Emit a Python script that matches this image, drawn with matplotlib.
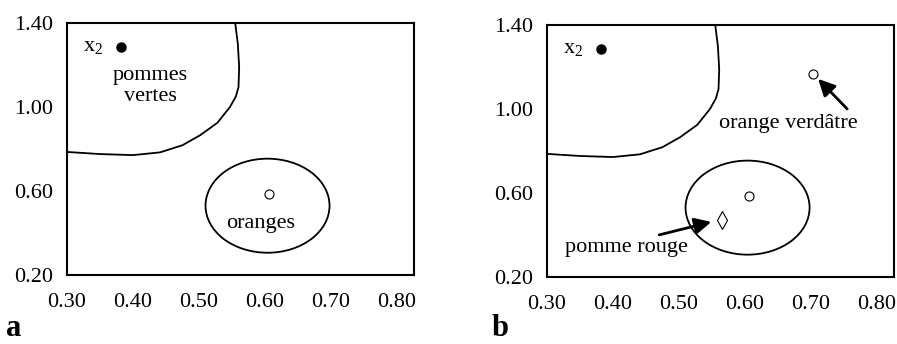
import numpy as np
import matplotlib
matplotlib.use('Agg')
import matplotlib.pyplot as plt
from matplotlib.patches import Ellipse

plt.rcParams['font.family'] = ['Liberation Serif', 'DejaVu Serif']
plt.rcParams['mathtext.fontset'] = 'custom'
plt.rcParams['mathtext.rm'] = 'Liberation Serif'

# axes settings
xticks = [0.30, 0.40, 0.50, 0.60, 0.70, 0.80]
yticks = [0.20, 0.60, 1.00, 1.40]
xlim = (0.30, 0.826)
ylim = (0.20, 1.40)

# decision boundary of the "pommes vertes" region
boundary_x = [0.300, 0.350, 0.400, 0.441, 0.475, 0.502, 0.528, 0.547, 0.556, 0.560, 0.561, 0.559, 0.555]
boundary_y = [0.786, 0.776, 0.771, 0.784, 0.818, 0.866, 0.925, 1.000, 1.050, 1.095, 1.190, 1.300, 1.400]

# "oranges" region (ellipse)
ell_center = (0.604, 0.530)
ell_width = 0.188
ell_height = 0.448

# points
x2_point = (0.382, 1.286)
orange_point = (0.606, 0.584)
orange_verdatre = (0.703, 1.167)
pomme_rouge = (0.565, 0.471)

FS = 16

fig = plt.figure(figsize=(8.97, 3.44), dpi=100)
ax_a = fig.add_axes([0.0747, 0.2006, 0.3868, 0.7324])
ax_b = fig.add_axes([0.6098, 0.1950, 0.3869, 0.7324])


def base(ax):
    ax.set_xlim(*xlim)
    ax.set_ylim(*ylim)
    ax.set_xticks(xticks)
    ax.set_yticks(yticks)
    ax.set_xticklabels(['{:.2f}'.format(v) for v in xticks])
    ax.set_yticklabels(['{:.2f}'.format(v) for v in yticks])
    ax.tick_params(length=0, labelsize=FS)
    ax.tick_params(axis='x', pad=13)
    ax.tick_params(axis='y', pad=10)
    for s in ax.spines.values():
        s.set_linewidth(1.5)
    ax.plot(boundary_x, boundary_y, color='black', lw=1.3)
    ax.add_patch(Ellipse(ell_center, ell_width, ell_height, fill=False,
                         ec='black', lw=1.3))
    ax.plot(*x2_point, 'o', color='black', ms=6.5)
    ax.text(0.355, x2_point[1], r'$\mathregular{x_2}$', fontsize=FS,
            ha='right', va='center')
    ax.plot(*orange_point, 'o', mfc='white', mec='black', ms=6.5, mew=0.8)


arrow = dict(arrowstyle='-|>,head_length=1.0,head_width=0.5',
             color='black', lw=2, shrinkA=0, shrinkB=0)

base(ax_a)
ax_a.text(0.426, 1.10, 'pommes\nvertes', fontsize=FS, ha='center',
          va='center', linespacing=1.2)
ax_a.text(0.594, 0.445, 'oranges', fontsize=FS, ha='center', va='center')

base(ax_b)
ax_b.plot(*orange_verdatre, 'o', mfc='white', mec='black', ms=6.5, mew=0.8)
ax_b.plot(*pomme_rouge, 'd', mfc='white', mec='black', ms=9, mew=0.8)
ax_b.annotate('', xy=(0.711, 1.143), xytext=(0.755, 1.00), arrowprops=arrow)
ax_b.text(0.666, 0.93, 'orange verdâtre', fontsize=FS, ha='center', va='center')
ax_b.annotate('', xy=(0.549, 0.462), xytext=(0.470, 0.400), arrowprops=arrow)
ax_b.text(0.421, 0.34, 'pomme rouge', fontsize=FS, ha='center', va='center')

fig.text(14 / 897, 0.5 / 344, 'a', fontsize=22, fontweight='bold',
         ha='center', va='bottom')
fig.text(500 / 897, 0.5 / 344, 'b', fontsize=22, fontweight='bold',
         ha='center', va='bottom')

fig.savefig('out.png', dpi=100)
